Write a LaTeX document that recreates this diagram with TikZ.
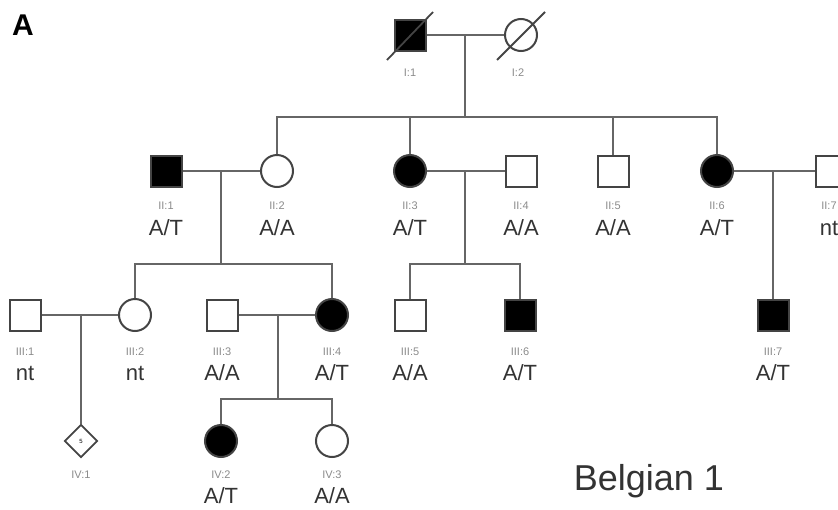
\documentclass[tikz,border=0pt]{standalone}
\usepackage{fontspec}
\setmainfont{Liberation Sans}
\usetikzlibrary{shapes.geometric}
\definecolor{lnc}{HTML}{666666}
\definecolor{olc}{HTML}{444444}
\definecolor{idc}{HTML}{8A8A8A}
\definecolor{txc}{HTML}{333333}
\tikzset{
  conn/.style={draw=lnc, line width=2.4pt},
  male/.style={rectangle, draw=olc, line width=2pt, minimum size=31pt, inner sep=0pt},
  female/.style={circle, draw=olc, line width=2pt, minimum size=32pt, inner sep=0pt},
  unk/.style={diamond, draw=olc, line width=1.8pt, minimum width=33pt, minimum height=33pt, inner sep=0pt, font=\fontsize{6}{6}\selectfont},
  aff/.style={fill=black},
  idlab/.style={anchor=base, text=idc, font=\fontsize{11}{11}\selectfont, inner sep=0pt},
  gtlab/.style={anchor=base, text=txc, font=\fontsize{22}{22}\selectfont, inner sep=0pt},
  deceased/.style={draw=olc, line width=1.8pt},
}
\begin{document}
\begin{tikzpicture}[x=1pt, y=-1pt]
\useasboundingbox (0,0) rectangle (838,509);
\clip (0,0) rectangle (838,509);
% panel letter
\node[anchor=base, font=\fontsize{30}{30}\selectfont\bfseries, inner sep=0pt] (panel) at (23,35) {A};
% Generation I
\node[male, aff] (I1) at (410,35) {};
\node[female] (I2) at (521,35) {};
\draw[deceased] (387,60) -- (433,12);
\draw[deceased] (497,60) -- (545,12);
\node[idlab] (lI1) at (410,76) {I:1};
\node[idlab] (lI2) at (518,76) {I:2};
\coordinate (m1) at (465,35);
\coordinate (s1) at (465,117);
\draw[conn] (I1.east) -- (I2.west);
\draw[conn] (m1) -- (s1);
% Generation II
\node[male, aff] (II1) at (166,171) {};
\node[female] (II2) at (277,171) {};
\node[female, aff] (II3) at (410,171) {};
\node[male] (II4) at (521,171) {};
\node[male] (II5) at (613,171) {};
\node[female, aff] (II6) at (717,171) {};
\node[male] (II7) at (831,171) {};
\draw[conn] (II2.north) -- (II2.north |- s1) -- (II6.north |- s1) -- (II6.north);
\draw[conn] (II3.north) -- (II3.north |- s1);
\draw[conn] (II5.north) -- (II5.north |- s1);
\foreach \n/\l/\x/\g in {II1/II:1/166/A\slash T, II2/II:2/277/A\slash A, II3/II:3/410/A\slash T, II4/II:4/521/A\slash A, II5/II:5/613/A\slash A, II6/II:6/717/A\slash T, II7/II:7/829/nt}{
  \node[idlab] (l\n) at (\x,209) {\l};
  \node[gtlab] (g\n) at (\x,235) {\g};
}
\draw[conn] (II1.east) -- (II2.west);
\coordinate (m2) at (221,171);
\coordinate (s2) at (221,264);
\draw[conn] (m2) -- (s2);
\draw[conn] (II3.east) -- (II4.west);
\coordinate (m3) at (465,171);
\coordinate (s3) at (465,264);
\draw[conn] (m3) -- (s3);
\draw[conn] (II6.east) -- (II7.west);
\coordinate (m4) at (773,171);
% Generation III
\node[male] (III1) at (25,315) {};
\node[female] (III2) at (135,315) {};
\node[male] (III3) at (222,315) {};
\node[female, aff] (III4) at (332,315) {};
\node[male] (III5) at (410,315) {};
\node[male, aff] (III6) at (520,315) {};
\node[male, aff] (III7) at (773,315) {};
\draw[conn] (III2.north) -- (III2.north |- s2) -- (III4.north |- s2) -- (III4.north);
\draw[conn] (III5.north) -- (III5.north |- s3) -- (III6.north |- s3) -- (III6.north);
\draw[conn] (m4) -- (III7.north);
\draw[conn] (III1.east) -- (III2.west);
\coordinate (m5) at (81,315);
\draw[conn] (III3.east) -- (III4.west);
\coordinate (m6) at (278,315);
\coordinate (s6) at (278,399);
\draw[conn] (m6) -- (s6);
% Generation IV
\node[unk] (IV1) at (81,441) {5};
\node[female, aff] (IV2) at (221,441) {};
\node[female] (IV3) at (332,441) {};
\draw[conn] (m5) -- (IV1.north);
\draw[conn] (IV2.north) -- (IV2.north |- s6) -- (IV3.north |- s6) -- (IV3.north);
\node[idlab] (lIV1) at (81,478) {IV:1};
\node[idlab] (lIV2) at (221,478) {IV:2};
\node[gtlab] (gIV2) at (221,503) {A\slash T};
\node[idlab] (lIV3) at (332,478) {IV:3};
\node[gtlab] (gIV3) at (332,503) {A\slash A};
% Generation III labels
\foreach \n/\x/\g in {III:1/25/nt, III:2/135/nt, III:3/222/A\slash A, III:4/332/A\slash T, III:5/410/A\slash A, III:6/520/A\slash T, III:7/773/A\slash T}{
  \node[idlab] at (\x,355) {\n};
  \node[gtlab] at (\x,380) {\g};
}
% title
\node[anchor=base, text=txc, font=\fontsize{36}{36}\selectfont, inner sep=0pt] (title) at (649,490) {Belgian 1};
\end{tikzpicture}
\end{document}
